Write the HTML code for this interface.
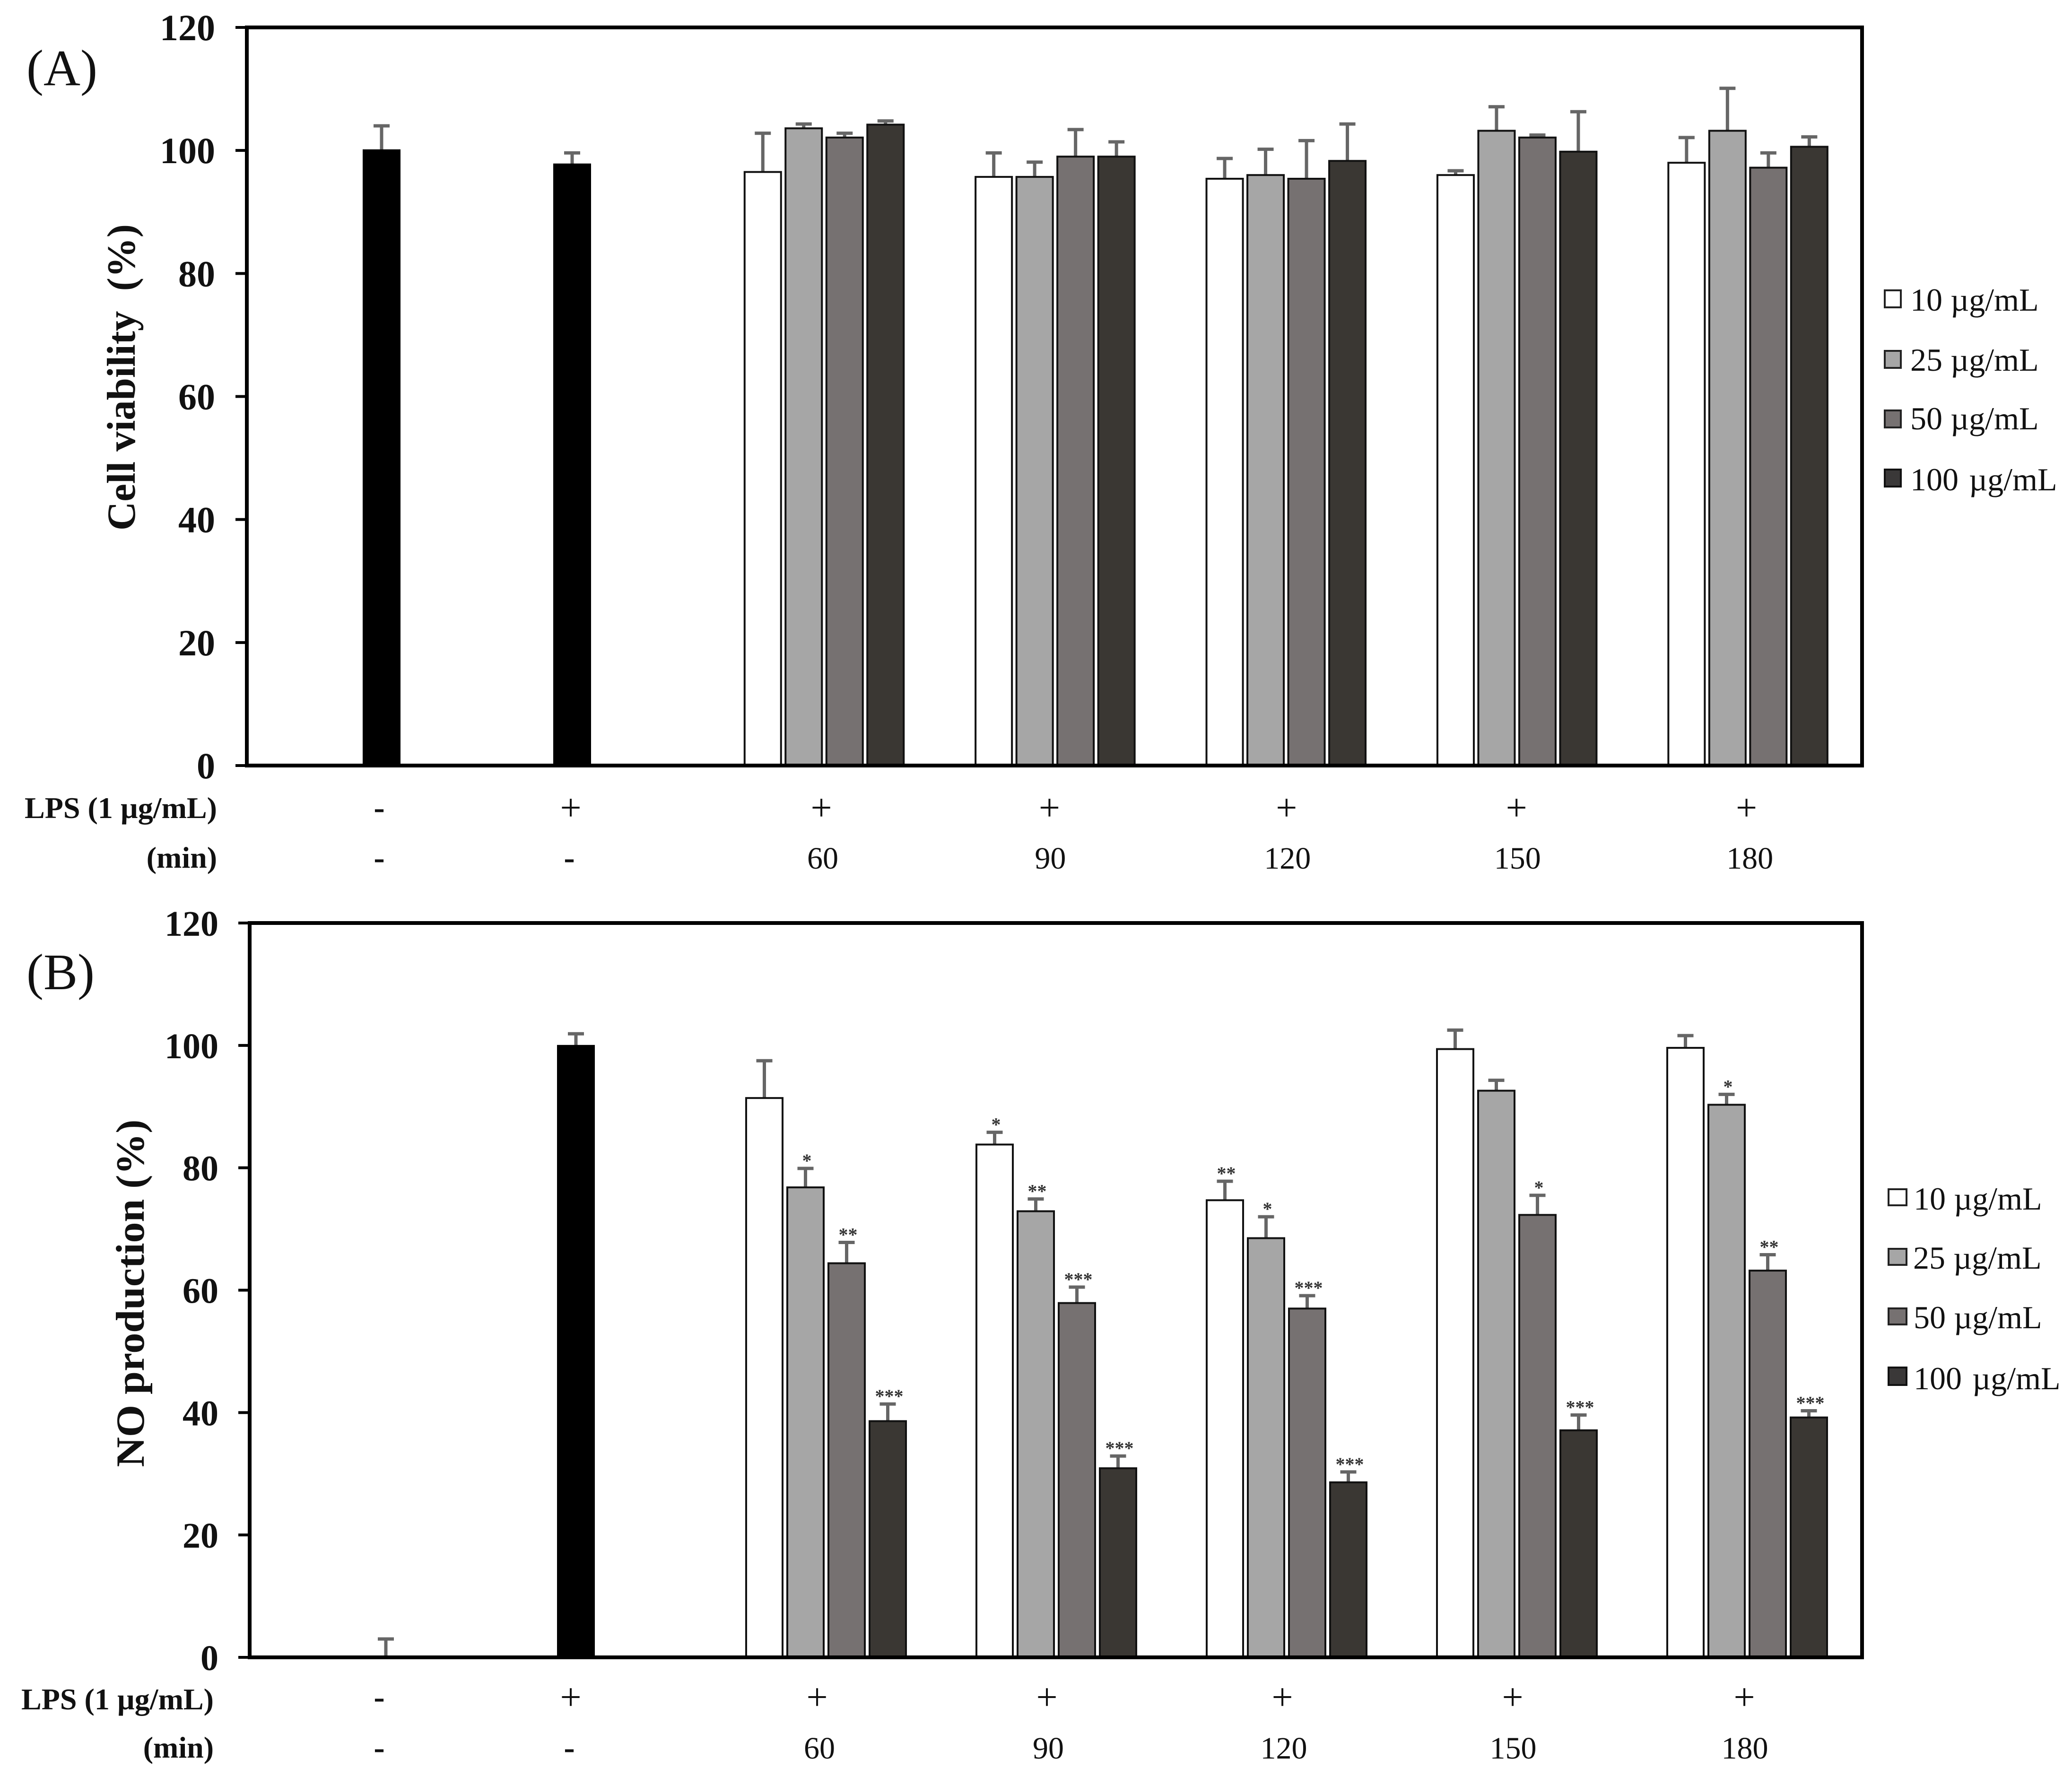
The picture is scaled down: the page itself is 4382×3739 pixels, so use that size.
<!DOCTYPE html>
<html lang="en">
<head>
<meta charset="utf-8">
<title>Cell viability and NO production</title>
<style>
html,body{margin:0;padding:0;background:#fff;}
svg{display:block;}
text{font-family:"Liberation Serif","Times New Roman",serif;fill:#111;}
.b{font-weight:bold;}
</style>
</head>
<body>
<svg id="fig" xmlns="http://www.w3.org/2000/svg" width="4382" height="3739" viewBox="0 0 4382 3739">
  <rect x="0" y="0" width="4382" height="3739" fill="#fff"/>

  <text x="56" y="180" font-size="108">(A)</text>
  <text x="56" y="2092" font-size="108">(B)</text>

  <text class="b" font-size="85" text-anchor="middle" textLength="648" lengthAdjust="spacingAndGlyphs" transform="translate(285 798) rotate(-90)" xml:space="preserve">Cell viability  (%)</text>
  <text class="b" font-size="85" text-anchor="middle" textLength="735" lengthAdjust="spacingAndGlyphs" transform="translate(304 2735) rotate(-90)">NO production (%)</text>

  <text class="b" font-size="63" x="52" y="1730" textLength="407" lengthAdjust="spacingAndGlyphs">LPS (1 µg/mL)</text>
  <text class="b" font-size="64" x="459" y="1835" text-anchor="end">(min)</text>
  <text class="b" font-size="63" x="45" y="3615" textLength="407" lengthAdjust="spacingAndGlyphs">LPS (1 µg/mL)</text>
  <text class="b" font-size="64" x="452" y="3717" text-anchor="end">(min)</text>

  <g>
    <rect x="3986" y="614" width="34" height="36" fill="#ffffff" stroke="#222" stroke-width="4"/>
    <text x="4040" y="657" font-size="68">10 µg/mL</text>
    <rect x="3986" y="742" width="34" height="36" fill="#a6a6a6" stroke="#222" stroke-width="4"/>
    <text x="4040" y="784" font-size="68">25 µg/mL</text>
    <rect x="3986" y="868" width="34" height="36" fill="#767171" stroke="#222" stroke-width="4"/>
    <text x="4040" y="908" font-size="68">50 µg/mL</text>
    <rect x="3986" y="993" width="34" height="36" fill="#3a3838" stroke="#111" stroke-width="4"/>
    <text x="4040" y="1037" font-size="68" word-spacing="-6" xml:space="preserve">100  µg/mL</text>
  </g>
  <g>
    <rect x="3994" y="2515" width="38" height="34" fill="#ffffff" stroke="#222" stroke-width="4"/>
    <text x="4047" y="2558" font-size="68">10 µg/mL</text>
    <rect x="3994" y="2641" width="38" height="34" fill="#a6a6a6" stroke="#222" stroke-width="4"/>
    <text x="4046" y="2683" font-size="68">25 µg/mL</text>
    <rect x="3994" y="2767" width="38" height="34" fill="#767171" stroke="#222" stroke-width="4"/>
    <text x="4047" y="2809" font-size="68">50 µg/mL</text>
    <rect x="3994" y="2892" width="38" height="37" fill="#3a3838" stroke="#111" stroke-width="4"/>
    <text x="4047" y="2938" font-size="68" word-spacing="-6" xml:space="preserve">100  µg/mL</text>
  </g>

  <g id="panel-a"></g>
  <g id="panel-b"></g>
</svg>

<script>
/* ---------- shared categories and ticks ---------- */
const timeCategories = ['60', '90', '120', '150', '180'];
const lpsControlMarks = ['-', '+'];
const minControlMarks = ['-', '-'];
const yTickLabels = [0, 20, 40, 60, 80, 100, 120];
const doseNames = ['10', '25', '50', '100'];
const doseFills = ['#ffffff', '#a6a6a6', '#767171', '#3a3733'];

/* ---------- panel A: cell viability (%) ---------- */
const viabilityControl = [100.1, 97.8];
const viabilityControlErr = [3.9, 1.8];
const viability10 = [96.5, 95.7, 95.4, 96, 98];
const viability25 = [103.6, 95.7, 96, 103.2, 103.2];
const viability50 = [102.1, 99, 95.4, 102.1, 97.2];
const viability100 = [104.2, 99, 98.3, 99.8, 100.6];
const viabilityErr10 = [6.3, 3.9, 3.3, 0.7, 4.1];
const viabilityErr25 = [0.7, 2.4, 4.2, 3.9, 6.9];
const viabilityErr50 = [0.7, 4.4, 6.2, 0.4, 2.4];
const viabilityErr100 = [0.6, 2.4, 6, 6.5, 1.6];

/* ---------- panel B: NO production (%) ---------- */
const nitricControl = [0, 100];
const nitricControlErr = [3, 1.9];
const nitric10 = [91.4, 83.8, 74.7, 99.4, 99.6];
const nitric25 = [76.8, 72.9, 68.5, 92.6, 90.3];
const nitric50 = [64.4, 57.9, 57, 72.3, 63.2];
const nitric100 = [38.6, 30.9, 28.6, 37.1, 39.2];
const nitricErr10 = [6.1, 2, 3.1, 3.1, 2];
const nitricErr25 = [3.1, 2, 3.5, 1.7, 1.7];
const nitricErr50 = [3.4, 2.6, 2.1, 3.2, 2.6];
const nitricErr100 = [2.8, 2, 1.7, 2.5, 1.1];
const nitricStars10 = ['', '*', '**', '', ''];
const nitricStars25 = ['*', '**', '*', '', '*'];
const nitricStars50 = ['**', '***', '***', '*', '**'];
const nitricStars100 = ['***', '***', '***', '***', '***'];

const NS = 'http://www.w3.org/2000/svg';
function mk(parent, tag, attrs, txt) {
  const el = document.createElementNS(NS, tag);
  for (const k in attrs) el.setAttribute(k, attrs[k]);
  if (txt !== undefined) el.textContent = txt;
  parent.appendChild(el);
  return el;
}

function drawPanel(cfg) {
  const root = document.getElementById(cfg.id);
  const yMax = yTickLabels[yTickLabels.length - 1];
  const yScale = v => cfg.y0 - v * (cfg.y0 - cfg.yTop) / yMax;
  const groupX = i => cfg.groupStart + i * cfg.groupStep;
  const controlX = i => cfg.controlX0 + i * cfg.controlStep;
  const dashSize = 70;
  const plusSize = 80;

  function errorBar(x, top, err) {
    const g = mk(root, 'g', {});
    
    
    mk(g, 'line', {x1: x, x2: x, y1: yScale(top), y2: yScale(top + err), stroke: '#666', 'stroke-width': 7});
    mk(g, 'line', {x1: x - 17, x2: x + 17, y1: yScale(top + err), y2: yScale(top + err), stroke: '#666', 'stroke-width': 7});
  }

  /* ticks */
  yTickLabels.forEach(v => {
    const tick = mk(root, 'line', {x1: cfg.tickX, x2: cfg.x0, y1: yScale(v), y2: yScale(v), stroke: '#000', 'stroke-width': 6});
    
    
    const lab = mk(root, 'text', {x: cfg.tickTextX, y: yScale(v) + 27, 'font-size': cfg.tickFont, 'text-anchor': 'end', 'class': 'b'}, String(v));
    
    
  });

  /* control bars */
  cfg.control.forEach((v, i) => {
    const cx = i === 0 ? cfg.firstErrX : controlX(i);
    errorBar(cx, v, cfg.controlErr[i]);
    if (v > 0) {
      const bar = mk(root, 'rect', {x: controlX(i) - 39, y: yScale(v), width: 78, height: yScale(0) - yScale(v), fill: '#000', stroke: '#000', 'stroke-width': 2});
      
      
    }
  });

  /* dose groups */
  timeCategories.forEach((cat, i) => {
    cfg.series.forEach((vals, j) => {
      const cx = groupX(i) + (j - 1.5) * cfg.barPitch;
      const top = vals[i];
      const err = cfg.errors[j][i];
      errorBar(cx, top, err);
      const bar = mk(root, 'rect', {x: cx - 38.5, y: yScale(top), width: 77, height: yScale(0) - yScale(top), fill: doseFills[j], stroke: '#111', 'stroke-width': 4});
      
      
      if (cfg.stars && cfg.stars[j][i]) {
        const s = mk(root, 'text', {x: cx + 3, y: yScale(top + err) - 3, 'font-size': 40, 'text-anchor': 'middle', 'class': 'b', style: 'fill:#333'}, cfg.stars[j][i]);
        
        
      }
    });
  });

  /* frame */
  const frame = mk(root, 'rect', {x: cfg.x0, y: cfg.yTop, width: cfg.x1 - cfg.x0, height: cfg.y0 - cfg.yTop, fill: 'none', stroke: '#000', 'stroke-width': 8});
  
  

  /* row labels */
  lpsControlMarks.forEach((m, i) => {
    const isDash = m === '-';
    const t = mk(root, 'text', {x: cfg.rowControlX + i * cfg.rowControlStep, y: cfg.rowLps + (isDash ? 0 : 4), 'font-size': isDash ? dashSize : plusSize, 'text-anchor': 'middle', 'class': isDash ? 'b' : ''}, m);
    
    
  });
  minControlMarks.forEach((m, i) => {
    const t = mk(root, 'text', {x: cfg.rowControlX + i * cfg.rowControlStep - (i ? 3 : 0), y: cfg.rowMin, 'font-size': dashSize, 'text-anchor': 'middle', 'class': 'b'}, m);
    
    
  });
  timeCategories.forEach((cat, i) => {
    const p = mk(root, 'text', {x: groupX(i) + cfg.plusNudge[i], y: cfg.rowLps + 4, 'font-size': plusSize, 'text-anchor': 'middle'}, '+');
    
    
    const m = mk(root, 'text', {x: groupX(i) + cfg.minNudge[i], y: cfg.rowMin, 'font-size': 66, 'text-anchor': 'middle'}, cat);
    
    
  });
}

drawPanel({
  id: 'panel-a', x0: 522, x1: 3938, yTop: 58, y0: 1619,
  tickX: 498, tickTextX: 455, tickFont: 78,
  groupStart: 1743, groupStep: 488.4, barPitch: 86.5,
  controlX0: 807, controlStep: 403, firstErrX: 807,
  control: viabilityControl, controlErr: viabilityControlErr,
  series: [viability10, viability25, viability50, viability100],
  errors: [viabilityErr10, viabilityErr25, viabilityErr50, viabilityErr100],
  stars: null,
  rowLps: 1731, rowMin: 1837, rowControlX: 802, rowControlStep: 405,
  plusNudge: [-6, -12, 1, -1, -3], minNudge: [-3, -10, 3, 1, 4]
});

drawPanel({
  id: 'panel-b', x0: 528, x1: 3938, yTop: 1952, y0: 3505,
  tickX: 504, tickTextX: 462, tickFont: 76,
  groupStart: 1747, groupStep: 487, barPitch: 87,
  controlX0: 814, controlStep: 404, firstErrX: 816,
  control: nitricControl, controlErr: nitricControlErr,
  series: [nitric10, nitric25, nitric50, nitric100],
  errors: [nitricErr10, nitricErr25, nitricErr50, nitricErr100],
  stars: [nitricStars10, nitricStars25, nitricStars50, nitricStars100],
  rowLps: 3612, rowMin: 3719, rowControlX: 802, rowControlStep: 405,
  plusNudge: [-19, -20, -9, -9, -6], minNudge: [-14, -17, -6, -8, -5]
});
</script>
</body>
</html>
